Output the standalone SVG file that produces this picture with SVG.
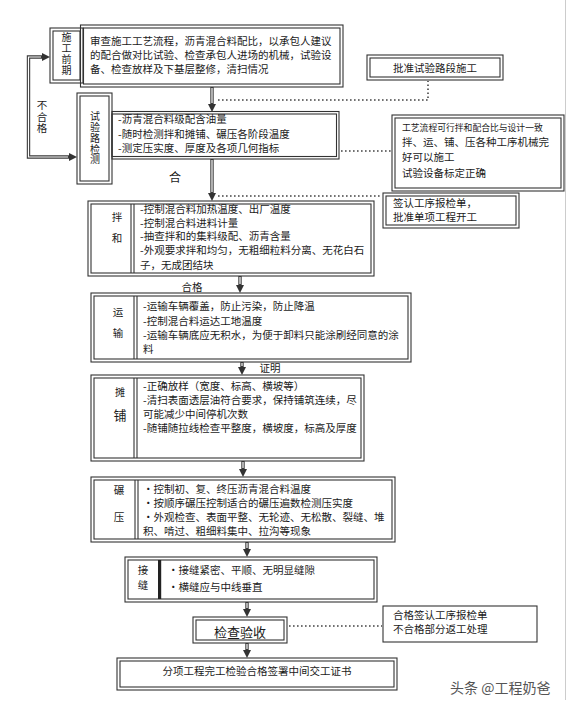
<svg xmlns="http://www.w3.org/2000/svg" width="567" height="707" viewBox="0 0 567 707">
<defs>
<style>
.b{fill:none;stroke:#333;stroke-width:1.1}
.t{font-family:"Noto Sans CJK SC","Noto Sans CJK JP",sans-serif;font-size:10.5px;fill:#1a1a1a}
.c{text-anchor:middle}
.vt{writing-mode:vertical-rl;font-size:10px;letter-spacing:0.8px}
.dk{fill:none;stroke:#3a3a3a;stroke-width:3.4}
.wh{fill:none;stroke:#fff;stroke-width:1.2}
.dot{fill:none;stroke:#444;stroke-width:1.6;stroke-dasharray:1.6 2.4}
</style>
<marker id="ah" viewBox="0 0 8 8" refX="0" refY="4" markerWidth="8" markerHeight="8" markerUnits="userSpaceOnUse" orient="auto-start-reverse"><path d="M0,0 L8,4 L0,8 z" fill="#333"/></marker>
</defs>
<rect width="567" height="707" fill="#fff"/>
<line x1="565.5" y1="0" x2="565.5" y2="700" stroke="#ccc" stroke-width="1"/>

<g id="connectors">
<path class="dk" d="M42,57 H28.5 V157 H69" marker-start="url(#ah)" marker-end="url(#ah)"/>
<path class="wh" d="M41,57 H28.5 V157 H68"/>
<path class="dk" d="M212,87 V104" marker-end="url(#ah)"/><path class="wh" d="M212,88 V103"/>
<path class="dk" d="M212,159 V193" marker-end="url(#ah)"/><path class="wh" d="M212,160 V192"/>
<path class="dk" d="M240,276 V285" marker-end="url(#ah)"/><path class="wh" d="M240,277 V284"/>
<path class="dk" d="M242,362 V367" marker-end="url(#ah)"/><path class="wh" d="M242,363 V366"/>
<path class="dk" d="M243,461 V469" marker-end="url(#ah)"/><path class="wh" d="M243,462 V468"/>
<path class="dk" d="M247,542 V549" marker-end="url(#ah)"/><path class="wh" d="M247,543 V548"/>
<path class="dk" d="M247,602 V609" marker-end="url(#ah)"/><path class="wh" d="M247,603 V608"/>
<path class="dk" d="M247,643 V650" marker-end="url(#ah)"/><path class="wh" d="M247,644 V649"/>
<path class="dot" d="M218,100 H428 V81"/>
<path class="dot" d="M341,151 H391"/>
<path class="dot" d="M218,196 H382"/>
<path class="dot" d="M289,626 H382"/>
<text class="t vt" style="font-size:10.5px;letter-spacing:1.2px" x="42" y="99.8">不合格</text>
<text class="t c" style="font-size:12px" x="175" y="181.5">合</text>
<text class="t c" x="192" y="291">合格</text>
<text class="t c" x="270" y="372">证明</text>
</g>

<g id="n-prep">
<rect class="b" x="50" y="28" width="33" height="55"/>
<rect class="b" x="53" y="31" width="27" height="49"/>
<text class="t vt" style="letter-spacing:1px" x="66.5" y="32.5">施工前期</text>
<rect class="b" x="80.5" y="25" width="262.5" height="62"/>
<rect class="b" x="83.5" y="28" width="256.5" height="56"/>
<text class="t" x="90" y="44.5">审查施工工艺流程，沥青混合料配比，以承包人建议</text>
<text class="t" x="90" y="58.5">的配合做对比试验、检查承包人进场的机械，试验设</text>
<text class="t" x="90" y="72.5">备、检查放样及下基层整修，清扫情况</text>
</g>

<g id="n-approve">
<rect class="b" x="367" y="55" width="136" height="25"/>
<rect class="b" x="370" y="58" width="130" height="19"/>
<text class="t c" x="435" y="72">批准试验路段施工</text>
</g>

<g id="n-trial">
<rect class="b" x="77" y="93" width="35" height="91"/>
<rect class="b" x="80" y="96" width="29" height="85"/>
<text class="t vt" x="95" y="111.5">试验路检测</text>
<rect class="b" x="112" y="111.5" width="227" height="47.5"/>
<rect class="b" x="112" y="114" width="224.5" height="42.5"/>
<text class="t" x="118" y="123">-沥青混合料级配含油量</text>
<text class="t" x="118" y="138">-随时检测拌和摊铺、碾压各阶段温度</text>
<text class="t" x="118" y="152">-测定压实度、厚度及各项几何指标</text>
</g>

<g id="n-trial-ok">
<rect class="b" x="392" y="115" width="172" height="76"/>
<rect class="b" x="395" y="118" width="166" height="70"/>
<text class="t" style="font-size:8.8px" x="402" y="130.5">工艺流程可行拌和配合比与设计一致</text>
<text class="t" x="402" y="146">拌、运、铺、压各种工序机械完</text>
<text class="t" x="402" y="161">好可以施工</text>
<text class="t" x="402" y="177">试验设备标定正确</text>
</g>

<g id="n-sign">
<rect class="b" x="383" y="193" width="136" height="35"/>
<rect class="b" x="386" y="196" width="130" height="29"/>
<text class="t" x="393" y="207">签认工序报检单，</text>
<text class="t" x="393" y="221">批准单项工程开工</text>
</g>

<g id="n-mix">
<rect class="b" x="88" y="201" width="286" height="75"/>
<rect class="b" x="91" y="204" width="280" height="69"/>
<line class="b" x1="131" y1="204" x2="131" y2="273"/>
<line class="b" x1="134" y1="204" x2="134" y2="273"/>
<text class="t c" x="117" y="221">拌</text>
<text class="t c" x="117" y="242">和</text>
<text class="t" x="140" y="213">-控制混合料加热温度、出厂温度</text>
<text class="t" x="140" y="226.5">-控制混合料进料计量</text>
<text class="t" x="140" y="240">-抽查拌和的集料级配、沥青含量</text>
<text class="t" x="140" y="254">-外观要求拌和均匀，无粗细粒料分离、无花白石</text>
<text class="t" x="140" y="269">子，无成团结块</text>
</g>

<g id="n-transport">
<rect class="b" x="91" y="293" width="320" height="69"/>
<rect class="b" x="94" y="296" width="314" height="63"/>
<line class="b" x1="134" y1="296" x2="134" y2="359"/>
<line class="b" x1="137" y1="296" x2="137" y2="359"/>
<text class="t c" x="118" y="316">运</text>
<text class="t c" x="118" y="337">输</text>
<text class="t" x="143" y="310">-运输车辆覆盖，防止污染，防止降温</text>
<text class="t" x="143" y="325">-控制混合料运达工地温度</text>
<text class="t" x="143" y="339">-运输车辆底应无积水，为便于卸料只能涂刷经同意的涂</text>
<text class="t" x="143" y="353">料</text>
</g>

<g id="n-pave">
<rect class="b" x="91" y="375" width="273" height="86"/>
<rect class="b" x="94" y="378" width="267" height="80"/>
<line class="b" x1="134" y1="378" x2="134" y2="458"/>
<line class="b" x1="137" y1="378" x2="137" y2="458"/>
<text class="t c" style="font-size:10px" x="120" y="395.5">摊</text>
<text class="t c" style="font-size:13px" x="120" y="420">铺</text>
<text class="t" x="143" y="390">-正确放样（宽度、标高、横坡等）</text>
<text class="t" x="143" y="404">-清扫表面透层油符合要求，保持铺筑连续，尽</text>
<text class="t" x="143" y="418">可能减少中间停机次数</text>
<text class="t" x="143" y="432">-随铺随拉线检查平整度，横坡度，标高及厚度</text>
</g>

<g id="n-roll">
<rect class="b" x="91" y="477" width="304" height="65"/>
<rect class="b" x="94" y="480" width="298" height="59"/>
<line class="b" x1="135" y1="480" x2="135" y2="539"/>
<line class="b" x1="138" y1="480" x2="138" y2="539"/>
<text class="t c" x="119" y="494">碾</text>
<text class="t c" x="119" y="521">压</text>
<text class="t" x="143" y="493">・控制初、复、终压沥青混合料温度</text>
<text class="t" x="143" y="507">・按顺序碾压控制适合的碾压遍数检测压实度</text>
<text class="t" x="143" y="521">・外观检查、表面平整、无轮迹、无松散、裂缝、堆</text>
<text class="t" x="143" y="535">积、啃过、粗细料集中、拉沟等现象</text>
</g>

<g id="n-joint">
<rect class="b" x="125" y="557" width="252" height="45"/>
<rect class="b" x="128" y="560" width="246" height="39"/>
<rect x="158" y="560" width="3.2" height="39" fill="#222"/>
<text class="t c" x="143" y="574">接</text>
<text class="t c" x="143" y="589">缝</text>
<text class="t" x="168" y="574">・接缝紧密、平顺、无明显缝隙</text>
<text class="t" x="168" y="591">・横缝应与中线垂直</text>
</g>

<g id="n-inspect">
<rect class="b" x="193" y="617" width="94" height="26"/>
<rect class="b" x="196" y="620" width="88" height="20"/>
<text class="t c" style="font-size:13px" x="240" y="636.5">检查验收</text>
</g>

<g id="n-inspect-note">
<rect class="b" x="383" y="606" width="154" height="36"/>
<text class="t" x="393" y="618.5">合格签认工序报检单</text>
<text class="t" x="393" y="632.5">不合格部分返工处理</text>
</g>

<g id="n-final">
<rect class="b" x="117" y="658" width="280" height="32"/>
<rect class="b" x="120" y="661" width="274" height="26"/>
<text class="t c" x="257" y="675">分项工程完工检验合格签署中间交工证书</text>
</g>

<text class="t" style="font-size:14px;fill:#555" x="450" y="693">头条 @工程奶爸</text>
</svg>
